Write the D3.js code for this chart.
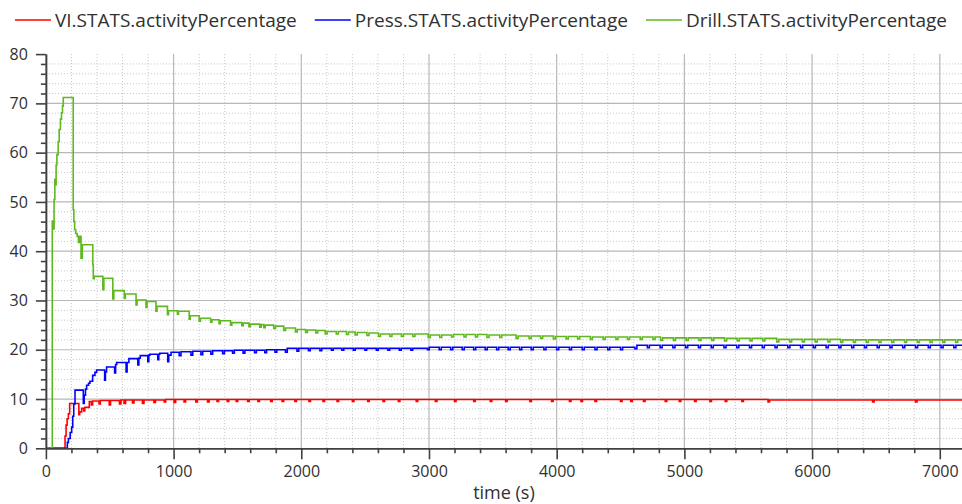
<!DOCTYPE html>
<html>
<head>
<meta charset="utf-8">
<script src="https://cdn.jsdelivr.net/npm/d3@7"></script>
<style>
  html, body { margin: 0; padding: 0; background: #fff; }
  svg { display: block; font-family: "Open Sans", "Noto Sans", sans-serif; }
</style>
</head>
<body>
<svg id="chart" width="962" height="504"></svg>
<script>
/* activityPercentage of three stations vs simulation time (step plot) */

var seriesNames = ["VI.STATS.activityPercentage", "Press.STATS.activityPercentage", "Drill.STATS.activityPercentage"];
var seriesColors = ["#ff0000", "#0000ff", "#5fb820"];

var xTicks = [0, 1000, 2000, 3000, 4000, 5000, 6000, 7000];
var yTicks = [0, 10, 20, 30, 40, 50, 60, 70, 80];
var xLabel = "time (s)";

// [time (s), value], drawn as steps
var vi = [
  [0, 0], [150, 2.5], [158, 4.7], [166, 6.0], [176, 7.0], [186, 9.1],
  [258, 6.8], [264, 7.4], [280, 8.1], [296, 7.6], [304, 8.3], [340, 9.5],
  [356, 8.8], [366, 9.6], [416, 9.0], [426, 9.7], [496, 8.8], [506, 9.7],
  [576, 9.0], [588, 9.8], [612, 9.1], [624, 9.8], [678, 9.2], [690, 9.8],
  [756, 9.1], [768, 9.8], [846, 9.3], [858, 9.8], [926, 9.4], [938, 9.9],
  [1004, 9.3], [1016, 9.9], [1082, 9.4], [1094, 9.9], [1174, 9.4], [1186, 9.9],
  [1266, 9.4], [1278, 9.9], [1340, 9.5], [1352, 9.9], [1420, 9.5], [1432, 9.9],
  [1490, 9.5], [1502, 9.9], [1580, 9.5], [1592, 9.9], [1660, 9.5], [1672, 9.9],
  [1760, 9.5], [1772, 9.9], [1850, 9.5], [1862, 9.9], [1950, 9.5], [1962, 9.9],
  [2060, 9.5], [2072, 9.9], [2170, 9.5], [2182, 9.9], [2280, 9.5], [2292, 9.9],
  [2400, 9.5], [2412, 9.9], [2520, 9.5], [2532, 9.9], [2640, 9.5], [2652, 9.9],
  [2760, 9.5], [2772, 9.9], [2900, 9.5], [2912, 9.9], [3050, 9.5], [3062, 9.9],
  [3200, 9.5], [3212, 9.9], [3350, 9.5], [3362, 9.9], [3480, 9.5], [3492, 9.9],
  [3600, 9.5], [3612, 9.9], [3790, 9.5], [3802, 9.9], [3960, 9.5], [3972, 9.9],
  [4100, 9.5], [4112, 9.9], [4190, 9.5], [4202, 9.9], [4300, 9.5], [4312, 9.9],
  [4500, 9.5], [4512, 9.9], [4580, 9.5], [4592, 9.9], [4680, 9.5], [4692, 9.9],
  [4850, 9.5], [4862, 9.9], [4960, 9.5], [4972, 9.9], [5080, 9.5], [5092, 9.9],
  [5200, 9.5], [5212, 9.9], [5320, 9.5], [5332, 9.9], [5450, 9.5], [5462, 9.9],
  [5655, 9.4], [5667, 9.8], [6474, 9.4], [6486, 9.8], [6810, 9.4], [6822, 9.8],
  [7174, 9.8]
];

var press = [
  [0, 0], [168, 1.2], [176, 2.0], [190, 3.2], [202, 4.3], [210, 6.5], [218, 9.0], [228, 11.8],
  [293, 9.1], [300, 10.8], [310, 12.0], [319, 12.8], [334, 13.2], [345, 13.6], [366, 14.8],
  [384, 15.4], [397, 15.9], [460, 13.8], [466, 15.5], [475, 16.5], [538, 15.3], [546, 17.0],
  [554, 17.4], [628, 15.5], [636, 17.4], [650, 18.2], [720, 16.9], [728, 18.3], [739, 18.8],
  [798, 17.6], [806, 18.9], [814, 19.1], [876, 18.0], [884, 19.1], [892, 19.3],
  [954, 17.6], [962, 18.9], [980, 19.5], [1044, 18.8], [1058, 19.6], [1136, 18.9], [1150, 19.7],
  [1214, 19.0], [1228, 19.7], [1292, 19.1], [1306, 19.8], [1384, 19.2], [1398, 19.8],
  [1462, 19.3], [1476, 19.9], [1544, 19.3], [1558, 19.9], [1634, 19.4], [1648, 19.9],
  [1714, 19.4], [1728, 20.0], [1794, 19.5], [1808, 20.0], [1876, 19.5], [1890, 20.3],
  [1966, 19.7], [1980, 20.3], [2056, 19.8], [2070, 20.3], [2146, 19.8], [2160, 20.3],
  [2236, 19.9], [2250, 20.3], [2318, 19.9], [2332, 20.3], [2408, 19.9], [2422, 20.3],
  [2498, 19.9], [2512, 20.3], [2588, 19.9], [2602, 20.3], [2678, 19.9], [2692, 20.3],
  [2768, 19.9], [2782, 20.3], [2858, 19.9], [2872, 20.3], [2988, 20.0], [3002, 20.5],
  [3080, 20.0], [3096, 20.5], [3170, 20.0], [3186, 20.5], [3260, 20.0], [3276, 20.5],
  [3350, 20.0], [3366, 20.5], [3440, 20.0], [3456, 20.5], [3530, 20.0], [3546, 20.5],
  [3620, 20.0], [3636, 20.5], [3710, 20.0], [3726, 20.5], [3800, 20.0], [3816, 20.5],
  [3900, 20.0], [3916, 20.5], [4000, 20.0], [4016, 20.5], [4100, 20.0], [4116, 20.5],
  [4200, 20.0], [4216, 20.5], [4300, 20.0], [4316, 20.5], [4400, 20.0], [4416, 20.5],
  [4500, 20.0], [4516, 20.5], [4612, 20.2], [4628, 20.9], [4710, 20.4], [4726, 20.9],
  [4810, 20.4], [4826, 20.9], [4910, 20.4], [4926, 20.9], [5010, 20.4], [5026, 20.9],
  [5110, 20.4], [5126, 20.9], [5210, 20.4], [5226, 20.9], [5310, 20.4], [5326, 20.9],
  [5410, 20.4], [5426, 20.9], [5510, 20.4], [5526, 20.9], [5610, 20.4], [5626, 20.9],
  [5710, 20.4], [5726, 20.9], [5810, 20.4], [5826, 20.9], [5910, 20.4], [5926, 20.9],
  [6010, 20.4], [6026, 20.9], [6110, 20.4], [6126, 20.9], [6210, 20.4], [6226, 20.9],
  [6310, 20.4], [6326, 20.9], [6410, 20.4], [6426, 20.9], [6510, 20.4], [6526, 20.9],
  [6610, 20.4], [6626, 20.9], [6710, 20.4], [6726, 20.9], [6810, 20.4], [6826, 20.9],
  [6910, 20.4], [6926, 20.9], [7010, 20.4], [7026, 20.9], [7110, 20.4], [7126, 20.9],
  [7174, 20.9]
];

var drill = [
  [0, 0], [50, 46.1], [58, 44.5], [64, 50.5], [70, 54.6], [76, 53.5], [80, 57.5], [86, 59.6],
  [96, 62.2], [104, 64.7], [114, 66.8], [122, 68.1], [130, 69.5], [136, 71.2],
  [214, 48.4], [219, 46.0], [225, 44.4], [233, 43.6], [245, 43.0], [255, 41.8], [263, 43.0],
  [275, 38.6], [285, 41.3], [367, 37.3], [371, 34.4], [378, 34.9], [446, 32.2], [454, 34.5],
  [524, 30.3], [532, 32.0], [614, 30.4], [622, 31.3], [706, 29.1], [714, 30.1],
  [784, 28.6], [792, 29.8], [862, 27.8], [870, 28.8], [952, 27.1], [960, 27.9],
  [1030, 27.2], [1038, 27.8], [1122, 26.2], [1130, 26.9], [1200, 25.8], [1210, 26.4],
  [1290, 25.6], [1300, 26.1], [1356, 25.3], [1366, 25.9], [1446, 25.0], [1456, 25.5],
  [1534, 24.9], [1546, 25.4], [1590, 24.7], [1602, 25.2], [1674, 24.6], [1686, 25.1],
  [1706, 24.5], [1718, 25.0], [1784, 24.3], [1798, 24.8], [1862, 23.9], [1876, 24.4],
  [1954, 23.6], [1968, 24.1], [2034, 23.5], [2048, 24.0], [2114, 23.4], [2128, 23.9],
  [2188, 23.2], [2202, 23.7], [2274, 23.2], [2290, 23.7], [2354, 23.1], [2370, 23.6],
  [2422, 23.0], [2438, 23.5], [2514, 22.9], [2530, 23.4], [2604, 22.7], [2620, 23.2],
  [2694, 22.7], [2710, 23.2], [2784, 22.7], [2800, 23.2], [2874, 22.7], [2890, 23.2],
  [2994, 22.5], [3010, 23.0], [3084, 22.5], [3100, 23.0], [3176, 22.6], [3192, 23.1],
  [3274, 22.6], [3290, 23.1], [3364, 22.6], [3380, 23.1], [3454, 22.5], [3470, 23.0],
  [3554, 22.5], [3570, 23.0], [3682, 22.3], [3698, 22.8], [3784, 22.3], [3800, 22.8],
  [3874, 22.3], [3890, 22.8], [3974, 22.2], [3990, 22.7], [4074, 22.2], [4090, 22.7],
  [4164, 22.2], [4180, 22.7], [4264, 22.1], [4280, 22.6], [4364, 22.1], [4380, 22.6],
  [4464, 22.1], [4480, 22.6], [4554, 22.1], [4570, 22.6], [4654, 22.1], [4670, 22.6],
  [4754, 22.1], [4770, 22.6], [4814, 21.9], [4830, 22.4], [4914, 21.9], [4930, 22.4],
  [5014, 21.9], [5030, 22.4], [5114, 21.9], [5130, 22.4], [5214, 21.9], [5230, 22.4],
  [5314, 21.8], [5330, 22.3], [5414, 21.8], [5430, 22.3], [5514, 21.8], [5530, 22.3],
  [5614, 21.8], [5630, 22.3], [5724, 21.6], [5740, 22.1], [5824, 21.6], [5840, 22.1],
  [5924, 21.6], [5940, 22.1], [6024, 21.6], [6040, 22.1], [6124, 21.6], [6140, 22.1],
  [6224, 21.5], [6240, 22.0], [6324, 21.5], [6340, 22.0], [6424, 21.5], [6440, 22.0],
  [6524, 21.5], [6540, 22.0], [6624, 21.5], [6640, 22.0], [6724, 21.5], [6740, 22.0],
  [6824, 21.5], [6840, 22.0], [6924, 21.5], [6940, 22.0], [7024, 21.5], [7040, 22.0],
  [7124, 21.5], [7140, 22.0], [7174, 22.0]
];

var series = [vi, press, drill];

(function () {
  var width = 962, height = 504;
  var left = 45.9, right = 962, top = 54.1, bottom = 448.3;

  var svg = d3.select("#chart");

  var x = d3.scaleLinear().domain([0, 7174]).range([left, right]);
  var y = d3.scaleLinear().domain([0, 80]).range([bottom, top]);

  // minor ticks: 5 per major step
  var xMinor = d3.range(0, 7174, 200).filter(function (v) { return v % 1000 !== 0; });
  var yMinor = d3.range(0, 80, 2).filter(function (v) { return v % 10 !== 0; });

  svg.append("defs").append("clipPath").attr("id", "plot-clip")
    .append("rect").attr("x", left).attr("y", top - 1).attr("width", right - left).attr("height", bottom - top + 1);

  /* ---- Grid ---- */
  var grid = svg.append("g").attr("class", "grid");

  grid.selectAll("line.minor-x").data(xMinor).join("line")
    .attr("class", "minor-x")
    .attr("x1", function (d) { return x(d); }).attr("x2", function (d) { return x(d); })
    .attr("y1", top).attr("y2", bottom)
    .attr("stroke", "#c4c4c4").attr("stroke-width", 1).attr("stroke-dasharray", "1,2");

  grid.selectAll("line.minor-y").data(yMinor).join("line")
    .attr("class", "minor-y")
    .attr("x1", left).attr("x2", right)
    .attr("y1", function (d) { return y(d); }).attr("y2", function (d) { return y(d); })
    .attr("stroke", "#c4c4c4").attr("stroke-width", 1).attr("stroke-dasharray", "1,2");

  grid.selectAll("line.major-x").data(xTicks.filter(function (d) { return d > 0; })).join("line")
    .attr("class", "major-x")
    .attr("x1", function (d) { return x(d); }).attr("x2", function (d) { return x(d); })
    .attr("y1", top).attr("y2", bottom)
    .attr("stroke", "#b8b8b8").attr("stroke-width", 1.2);

  grid.selectAll("line.major-y").data(yTicks.filter(function (d) { return d > 0 && d < 80; })).join("line")
    .attr("class", "major-y")
    .attr("x1", left).attr("x2", right)
    .attr("y1", function (d) { return y(d); }).attr("y2", function (d) { return y(d); })
    .attr("stroke", "#b8b8b8").attr("stroke-width", 1.2);

  /* ---- Lines ---- */
  var line = d3.line()
    .x(function (d) { return x(d[0]); })
    .y(function (d) { return y(d[1]); })
    .curve(d3.curveStepAfter);

  svg.append("g").attr("clip-path", "url(#plot-clip)")
    .selectAll("path").data(series).join("path")
    .attr("d", line)
    .attr("fill", "none")
    .attr("stroke", function (d, i) { return seriesColors[i]; })
    .attr("stroke-width", 1.6);

  /* ---- Axes ---- */
  var axisColor = "#404040";
  var textColor = "#303030";

  svg.append("g").attr("transform", "translate(" + left + ",0)")
    .call(d3.axisLeft(y).tickValues(yTicks).tickSize(10).tickSizeOuter(0).tickPadding(8));
  svg.append("g").attr("transform", "translate(" + left + ",0)")
    .call(d3.axisLeft(y).tickValues(yMinor).tickSize(5).tickSizeOuter(0).tickFormat(""));

  svg.append("g").attr("transform", "translate(0," + bottom + ")")
    .call(d3.axisBottom(x).tickValues(xTicks).tickFormat(d3.format("d")).tickSize(11).tickSizeOuter(0).tickPadding(6));
  svg.append("g").attr("transform", "translate(0," + bottom + ")")
    .call(d3.axisBottom(x).tickValues(xMinor).tickSize(5).tickSizeOuter(0).tickFormat(""));

  svg.selectAll(".domain, .tick line").attr("stroke", axisColor).attr("stroke-width", 1.6);
  svg.selectAll(".tick text")
    .attr("fill", textColor)
    .style("font-size", "16px")
    .style("font-family", '"Open Sans", "Noto Sans", sans-serif');

  svg.append("text")
    .attr("x", (left + right) / 2)
    .attr("y", 499)
    .attr("text-anchor", "middle")
    .attr("fill", textColor)
    .style("font-size", "18px")
    .text(xLabel);

  /* ---- Legend ---- */
  var legend = svg.append("g").attr("class", "legend");
  var items = legend.selectAll("g").data(seriesNames).join("g");
  items.append("line")
    .attr("x1", 0).attr("x2", 36).attr("y1", 20).attr("y2", 20)
    .attr("stroke", function (d, i) { return seriesColors[i]; })
    .attr("stroke-width", 1.5);
  items.append("text")
    .attr("x", 40).attr("y", 27)
    .attr("fill", textColor)
    .style("font-size", "19px")
    .text(function (d) { return d; });

  // lay items out side by side, centred over the page
  var gap = 18, pos = 0, offsets = [];
  items.each(function () {
    offsets.push(pos);
    pos += this.getBBox().width + gap;
  });
  var total = pos - gap;
  var start = (width - total) / 2;
  items.attr("transform", function (d, i) { return "translate(" + (start + offsets[i]) + ",0)"; });
})();
</script>
</body>
</html>
